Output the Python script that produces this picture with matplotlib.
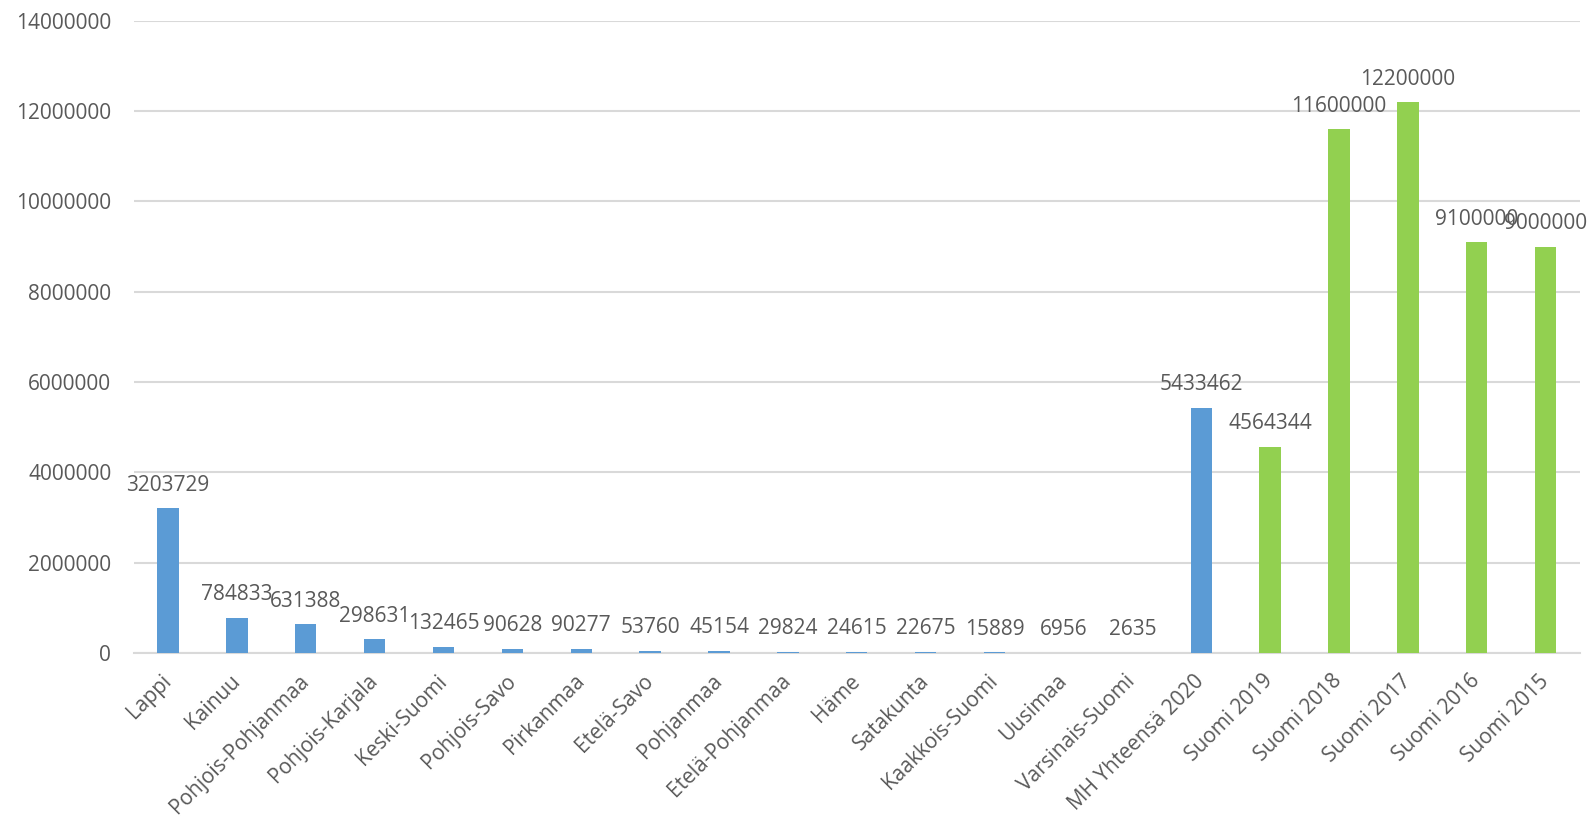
import matplotlib.pyplot as plt
from matplotlib.ticker import MultipleLocator, FuncFormatter

categories = ['Lappi', 'Kainuu', 'Pohjois-Pohjanmaa', 'Pohjois-Karjala', 'Keski-Suomi',
              'Pohjois-Savo', 'Pirkanmaa', 'Etelä-Savo', 'Pohjanmaa', 'Etelä-Pohjanmaa',
              'Häme', 'Satakunta', 'Kaakkois-Suomi', 'Uusimaa', 'Varsinais-Suomi',
              'MH Yhteensä 2020', 'Suomi 2019', 'Suomi 2018', 'Suomi 2017', 'Suomi 2016',
              'Suomi 2015']
values = [3203729, 784833, 631388, 298631, 132465, 90628, 90277, 53760, 45154, 29824,
          24615, 22675, 15889, 6956, 2635, 5433462, 4564344, 11600000, 12200000,
          9100000, 9000000]
n_regional = 16  # first 16 bars are blue (regions + MH total), rest green

BLUE = '#5B9BD5'
GREEN = '#92D050'
TEXT = '#595959'
GRID = '#D9D9D9'

plt.rcParams['font.family'] = ['Open Sans', 'DejaVu Sans']
FS = 15

fig = plt.figure(figsize=(15.92, 8.16), dpi=100)
ax = fig.add_axes([0.0839, 0.1998, 0.9086, 0.7748])

colors = [BLUE if i < n_regional else GREEN for i in range(len(values))]
x = list(range(len(values)))
bars = ax.bar(x, values, width=0.31, color=colors, zorder=3)

for b, v in zip(bars, values):
    ax.annotate(str(v), (b.get_x() + b.get_width() / 2, v), xytext=(0, 9),
                textcoords='offset points', ha='center', va='bottom',
                fontsize=FS, color=TEXT)

ax.set_xlim(-0.5, len(values) - 0.5)
ax.set_ylim(0, 14000000)
ax.yaxis.set_major_locator(MultipleLocator(2000000))
ax.yaxis.set_major_formatter(FuncFormatter(lambda v, p: f'{int(v)}'))
ax.grid(axis='y', color=GRID, linewidth=1.5, zorder=0)
ax.set_axisbelow(True)

ax.set_xticks(x)
ax.set_xticklabels(categories, rotation=45, ha='right', va='center',
                   rotation_mode='anchor', fontsize=FS, color=TEXT)
ax.tick_params(axis='x', length=0, pad=18)
ax.tick_params(axis='y', length=0, pad=16, labelsize=FS, labelcolor=TEXT)

for s in ['top', 'right', 'left']:
    ax.spines[s].set_visible(False)
ax.spines['bottom'].set_color(GRID)
ax.spines['bottom'].set_linewidth(1.5)

fig.savefig('out.png', dpi=100)
